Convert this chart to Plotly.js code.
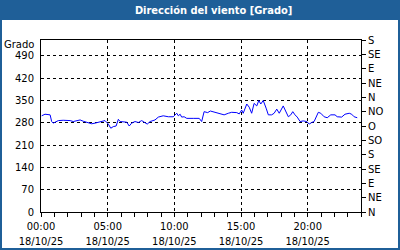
<!DOCTYPE html>
<html>
<head>
<meta charset="utf-8">
<script src="https://cdn.plot.ly/plotly-3.0.1.min.js"></script>
<style>
html,body{margin:0;padding:0;background:#fff;}
#chart{width:400px;height:250px;}
</style>
</head>
<body>
<div id="chart"></div>
<script>
const day = "2025-10-18";
const times = ["00:03","00:18","00:41","00:48","00:55","01:03","01:18","01:40","02:11","02:25",
"02:41","02:56","03:10","03:26","03:48","04:03","04:18","04:33","04:48","04:56",
"05:03","05:14","05:25","05:38","05:48","05:56","06:10","06:26","06:37","06:48",
"07:03","07:18","07:33","07:48","07:58","08:11","08:33","08:48","09:10","09:33",
"09:55","10:11","10:18","10:26","10:33","10:44","10:56","11:25","11:52","12:03",
"12:14","12:30","12:42","13:03","13:26","13:44","14:03","14:18","14:41","14:52",
"15:03","15:10","15:26","15:37","15:48","15:59","16:11","16:20","16:29","16:40",
"16:53","17:03","17:18","17:29","17:41","17:52","18:10","18:23","18:33","18:44",
"18:53","19:03","19:13","19:26","19:40","19:56","20:07","20:18","20:29","20:48",
"20:59","21:14","21:28","21:44","22:03","22:13","22:33","22:48","23:07","23:18",
"23:29","23:43"];
const direction = [302,307,305,284,279,282,287,288,287,284,
287,289,285,282,277,279,281,285,287,281,
276,263,268,270,291,284,282,282,270,279,
284,281,287,281,276,284,289,298,302,299,
299,310,302,307,298,299,294,294,294,284,
315,312,317,313,309,305,310,313,312,308,
320,310,339,329,310,341,333,350,339,350,
326,305,305,310,323,310,333,315,299,305,
315,305,298,284,286,284,276,281,284,313,
310,299,296,305,305,299,298,307,310,307,
299,296];
const leftTicks = [0,70,140,210,280,350,420,490];
const rightTickVals = [0,45,90,135,180,225,270,315,360,405,450,495,540];
const rightTickText = ["N","NE","E","SE","S","SO","O","NO","N","NE","E","SE","S"];
const titleText = "Dirección del viento [Grado]";
const yTitle = "Grado";

const x = times.map(t => day + " " + t);
const blue = "#1f5f98";
const tickFont = {family:"DejaVu Sans", size:10, color:"#000"};
const xTickFont = {family:"DejaVu Sans Condensed", size:11, color:"#000"};

const trace = {
  x: x, y: direction, type:"scatter", mode:"lines",
  line:{color:"#0000ff", width:1}, hoverinfo:"skip", showlegend:false
};

const layout = {
  width:400, height:250,
  margin:{l:41, r:39, t:40, b:38, pad:0},
  paper_bgcolor: blue,
  plot_bgcolor:"#ffffff",
  title:{text:titleText, x:0.534, xref:"container", xanchor:"center",
         y:0.96, yref:"container", yanchor:"middle",
         font:{family:"DejaVu Sans Condensed", size:11, color:"#ffffff", weight:"bold"}},
  xaxis:{
    type:"date", range:["2025-10-18 00:00","2025-10-19 00:00"],
    tick0:"2025-10-18 00:00", dtick:5*3600000, tickformat:"%H:%M<br>%d/%m/%y",
    ticks:"outside", ticklen:4, tickcolor:"#000", tickfont:xTickFont,
    showline:true, linecolor:"#000", linewidth:1, mirror:true,
    showgrid:true, gridcolor:"#000", griddash:"3px,3px", gridwidth:1,
    zeroline:false,
    minor:{dtick:3600000, ticks:"outside", ticklen:4, tickcolor:"#000", showgrid:false}
  },
  yaxis:{
    range:[0,540], tickvals:leftTicks, ticks:"", tickfont:tickFont,
    ticklabelstandoff:4,
    showline:true, linecolor:"#000", linewidth:1, mirror:true,
    showgrid:true, gridcolor:"#000", griddash:"3px,3px", gridwidth:1,
    zeroline:false
  },
  yaxis2:{
    range:[0,540], overlaying:"y", side:"right", anchor:"x",
    tickvals:rightTickVals, ticktext:rightTickText,
    ticks:"outside", ticklen:4, tickcolor:"#000", tickfont:tickFont,
    showgrid:false, zeroline:false, showline:false
  },
  shapes:[{type:"rect", xref:"paper", yref:"paper", layer:"below",
    x0:-0.121875, x1:1.115625, y0:-0.2093, y1:1.1163,
    fillcolor:"#ffffff", line:{width:0}}],
  annotations:[{text:yTitle, xref:"paper", yref:"paper", x:0, y:0.975,
    xanchor:"right", yanchor:"middle", xshift:-5, showarrow:false,
    font:{family:"DejaVu Sans", size:10, color:"#000"}}]
};

const trace2 = {x:[x[0]], y:[direction[0]], yaxis:"y2", type:"scatter", mode:"markers",
  marker:{opacity:0}, hoverinfo:"skip", showlegend:false};

Plotly.newPlot("chart", [trace, trace2], layout, {staticPlot:true, displayModeBar:false});
</script>
</body>
</html>
